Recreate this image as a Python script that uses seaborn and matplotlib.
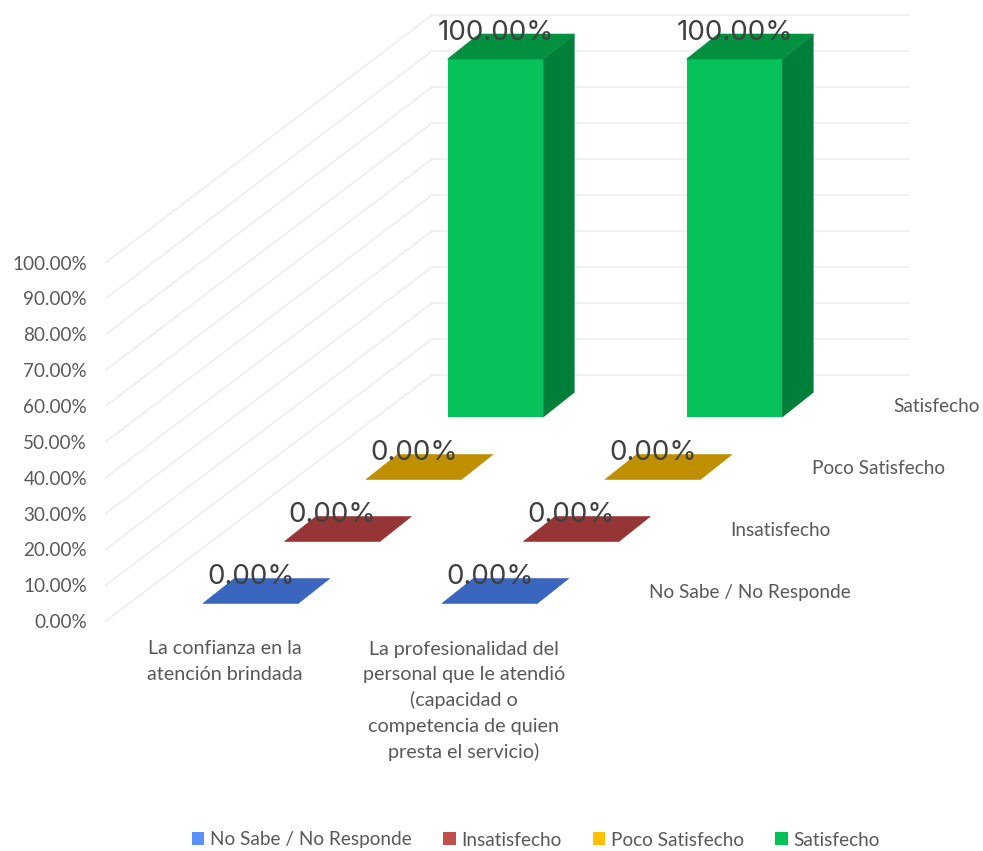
import matplotlib
matplotlib.use("Agg")
import matplotlib.pyplot as plt
from matplotlib.patches import Polygon, Patch
import pandas as pd
import seaborn as sns

# ---- data ----
categories = ["La confianza en la\natención brindada",
              "La profesionalidad del\npersonal que le atendió\n(capacidad o\ncompetencia de quien\npresta el servicio)"]
series_names = ["No Sabe / No Responde", "Insatisfecho", "Poco Satisfecho", "Satisfecho"]
no_sabe = [0.0, 0.0]
insatisfecho = [0.0, 0.0]
poco = [0.0, 0.0]
satisfecho = [100.0, 100.0]
y_ticks = [0, 10, 20, 30, 40, 50, 60, 70, 80, 90, 100]

# ---- styles ----
front_cols = ["#4472C4", "#C0504D", "#FFC000", "#05C25A"]
top_cols = ["#3A66C0", "#963535", "#BF8F00", "#00903F"]
side_cols = ["#2F5597", "#7B2C2A", "#997300", "#007F3A"]
legend_cols = ["#5B8FF9", "#C0504D", "#FFC000", "#00C05A"]
TXT = "#595959"
FS = 13.7

sns.set_theme(style="white")
plt.rcParams["font.family"] = ["Lato", "DejaVu Sans"]

W, H = 983, 851
fig = plt.figure(figsize=(W / 100, H / 100), dpi=100, facecolor="white")

# oblique projection geometry (pixels per unit)
X0, Y0 = 202.8, 603.5
CAT_DX, DEPTH_DX, DEPTH_DY = 239.0, 81.6, 62.0
BAR_W, BAR_DX, BAR_DY = 95.5, 31.5, 25.0
Z_PX = 358.5 / 100.0


def project(c, d, v, u=0.0, w=0.0):
    """category index, series depth, value, across-bar and into-bar fraction -> pixels"""
    return (X0 + c * CAT_DX + d * DEPTH_DX + u * BAR_W + w * BAR_DX,
            Y0 - d * DEPTH_DY - w * BAR_DY - v * Z_PX)


def pixel_axes(z):
    a = fig.add_axes([0, 0, 1, 1], zorder=z)
    a.set_xlim(0, W)
    a.set_ylim(H, 0)
    a.set_axis_off()
    a.patch.set_alpha(0)
    return a


# back walls
back = pixel_axes(0)
GRID = "#E9E9E9"
WALL_L = (105.0, 621.7)
WALL_B = (432.0, 375.0)
WALL_R = 910.0
for t in y_ticks:
    yl = WALL_L[1] - t * 3.587
    yb = WALL_B[1] - t * 3.6
    back.plot([WALL_L[0], WALL_B[0], WALL_R], [yl, yb, yb], color=GRID, lw=0.9, solid_capstyle="butt")

df = pd.DataFrame({
    "category": categories * 4,
    "series": [s for s in series_names for _ in categories],
    "value": no_sabe + insatisfecho + poco + satisfecho,
})

# front faces: one seaborn bar panel per series plane
for d, name in enumerate(series_names):
    cx, _ = project(0, d, 0, u=0.5)
    _, y_base = project(0, d, 0)
    left = cx - CAT_DX / 2
    a = fig.add_axes([left / W, 1 - y_base / H, 2 * CAT_DX / W, 100 * Z_PX / H], zorder=1 + d)
    sns.barplot(data=df[df["series"] == name], x="category", y="value",
                color=front_cols[d], saturation=1, width=BAR_W / CAT_DX, linewidth=0, ax=a)
    a.set_xlim(-0.5, 1.5)
    a.set_ylim(0, 100)
    a.set_axis_off()
    a.patch.set_alpha(0)

# side and top faces plus labels
over = pixel_axes(10)
for d, name in enumerate(series_names):
    vals = df[df["series"] == name]["value"].tolist()
    for c, v in enumerate(vals):
        over.add_patch(Polygon([project(c, d, 0, 1, 0), project(c, d, 0, 1, 1),
                                project(c, d, v, 1, 1), project(c, d, v, 1, 0)],
                               closed=True, fc=side_cols[d], ec="none"))
        over.add_patch(Polygon([project(c, d, v, 0, 0), project(c, d, v, 1, 0),
                                project(c, d, v, 1, 1), project(c, d, v, 0, 1)],
                               closed=True, fc=top_cols[d], ec=top_cols[d], lw=0.4))
        lx, ly = project(c, d, v, 0.5, 0)
        over.text(lx + 0.5, ly - 26, f"{v:.2f}%", ha="center", va="center",
                  family=["Inter", "DejaVu Sans"], fontsize=20, color="#404040")
    _, sy = project(0, d, 0)
    over.text(649 + d * DEPTH_DX, sy - 11, name, ha="left", va="center", fontsize=FS, color=TXT)

for t in y_ticks:
    over.text(87, WALL_L[1] - t * 3.587 + 1, f"{t:.2f}%", ha="right", va="center",
              fontsize=FS - 0.1, color=TXT)

for c, lab in enumerate(categories):
    for i, line in enumerate(lab.split("\n")):
        over.text(225 + c * CAT_DX, 649 + i * 25.7, line, ha="center", va="center",
                  fontsize=14.2, color=TXT)

handles = [Patch(fc=col, ec="none", label=n) for col, n in zip(legend_cols, series_names)]
fig.legend(handles=handles, ncol=4, loc="center", bbox_to_anchor=(536 / W, 1 - 840 / H),
           frameon=False, fontsize=FS, labelcolor=TXT, handlelength=0.65, handleheight=0.65,
           handletextpad=0.3, columnspacing=1.65, borderpad=0)

fig.savefig("out.png", dpi=100, facecolor="white")
